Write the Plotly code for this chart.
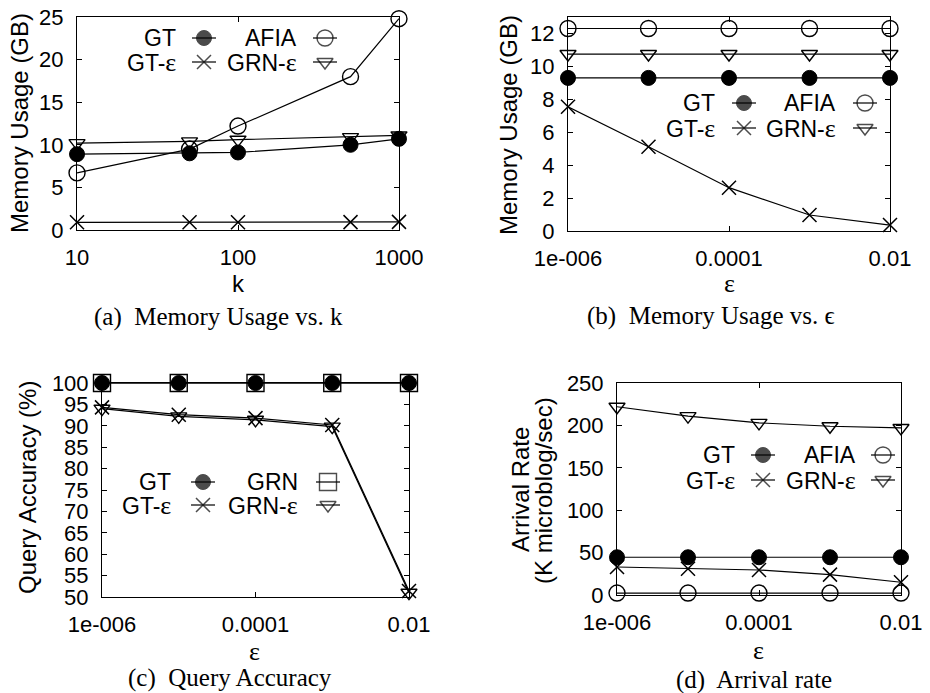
import plotly.graph_objects as go

W, H = 930, 693

# ---- data ----------------------------------------------------------------
k_vals = [10, 50, 100, 500, 1000]
mem_k_gt = [8.9, 9.0, 9.1, 10.0, 10.7]
mem_k_afia = [6.7, 9.5, 12.2, 18.0, 24.8]
mem_k_gt_eps = [0.9, 0.9, 0.9, 0.92, 0.95]
mem_k_grn_eps = [10.2, 10.4, 10.6, 10.9, 11.1]

eps_vals = [1e-6, 1e-5, 1e-4, 1e-3, 1e-2]
mem_e_gt = [9.3, 9.3, 9.3, 9.3, 9.3]
mem_e_afia = [12.3, 12.3, 12.3, 12.3, 12.3]
mem_e_gt_eps = [7.55, 5.12, 2.63, 0.97, 0.36]
mem_e_grn_eps = [10.75, 10.75, 10.75, 10.75, 10.75]

acc_gt = [100, 100, 100, 100, 100]
acc_grn = [100, 100, 100, 100, 100]
acc_gt_eps = [94.3, 92.6, 91.8, 90.2, 51.4]
acc_grn_eps = [94.0, 92.2, 91.4, 89.8, 51.0]

rate_gt = [44.5, 44.5, 44.5, 44.5, 44.5]
rate_afia = [2.3, 2.3, 2.3, 2.3, 2.3]
rate_gt_eps = [33, 31, 29.5, 24, 15]
rate_grn_eps = [222, 211, 203, 199, 197]

eps_ticks = [1e-6, 1e-4, 1e-2]
eps_ticktext = ["1e-006", "0.0001", "0.01"]
k_ticks = [10, 100, 1000]
k_ticktext = ["10", "100", "1000"]

SANS = "Liberation Sans"
SERIF = "Liberation Serif"
FS_TICK = 22
FS_LEG = 23
FS_TITLE = 24
FS_CAP = 25
EPS = '<span style="font-family:Liberation Serif;font-size:26px">ε</span>'

# marker styles
STY = {
    "GT": dict(symbol="circle", size=15, color="black", line=dict(color="black", width=1)),
    "AFIA": dict(symbol="circle-open", size=16, color="black", line=dict(color="black", width=1.4)),
    "GT-eps": dict(symbol="x-thin-open", size=14, color="black", line=dict(color="black", width=1.5)),
    "GRN-eps": dict(symbol="triangle-down-open", size=14, color="black", line=dict(color="black", width=1.4)),
    "GRN": dict(symbol="square-open", size=17, color="black", line=dict(color="black", width=1.4)),
}

# panel boxes in pixels: (left, right, top, bottom)
BOX = {
    1: (77, 399, 17, 230),
    2: (568, 890, 17, 231),
    3: (102, 409, 383, 597),
    4: (617, 901, 383, 595),
}

fig = go.Figure()


def px2paper(x, y):
    return x / W, 1 - y / H


def add_series(i, xs, ys, key):
    sfx = "" if i == 1 else str(i)
    fig.add_trace(go.Scatter(
        x=xs, y=ys, mode="lines+markers", xaxis="x" + sfx, yaxis="y" + sfx,
        line=dict(color="black", width=1.2), marker=STY[key],
        cliponaxis=False, showlegend=False, hoverinfo="x+y"))


# (a)
add_series(1, k_vals, mem_k_gt_eps, "GT-eps")
add_series(1, k_vals, mem_k_grn_eps, "GRN-eps")
add_series(1, k_vals, mem_k_gt, "GT")
add_series(1, k_vals, mem_k_afia, "AFIA")
# (b)
add_series(2, eps_vals, mem_e_gt_eps, "GT-eps")
add_series(2, eps_vals, mem_e_grn_eps, "GRN-eps")
add_series(2, eps_vals, mem_e_gt, "GT")
add_series(2, eps_vals, mem_e_afia, "AFIA")
# (c)
add_series(3, eps_vals, acc_grn, "GRN")
add_series(3, eps_vals, acc_gt, "GT")
add_series(3, eps_vals, acc_gt_eps, "GT-eps")
add_series(3, eps_vals, acc_grn_eps, "GRN-eps")
# (d)
add_series(4, eps_vals, rate_grn_eps, "GRN-eps")
add_series(4, eps_vals, rate_gt, "GT")
add_series(4, eps_vals, rate_gt_eps, "GT-eps")
add_series(4, eps_vals, rate_afia, "AFIA")

axis_common = dict(
    showline=True, linecolor="black", linewidth=1, mirror="ticks",
    ticks="inside", ticklen=5, tickwidth=1, tickcolor="black",
    showgrid=False, zeroline=False, automargin=False,
    tickfont=dict(family=SANS, size=FS_TICK, color="black"),
)

yranges = {1: ([-0.001, 25.001], 5), 2: ([-0.001, 13], 2),
           3: ([49.999, 100.001], 5), 4: ([-0.01, 250.01], 50)}
TINY = 1e-4  # small pad so end points on the box edges are not dropped

layout = dict(
    template="none",
    width=W, height=H, margin=dict(l=0, r=0, t=0, b=0, autoexpand=False),
    paper_bgcolor="white", plot_bgcolor="rgba(0,0,0,0)", showlegend=False,
)
for i, (l, r, t, b) in BOX.items():
    sfx = "" if i == 1 else str(i)
    xd = [l / W, r / W]
    yd = [1 - b / H, 1 - t / H]
    if i == 1:
        xa = dict(type="log", range=[1 - TINY, 3 + TINY], tickvals=k_ticks, ticktext=k_ticktext)
    else:
        xa = dict(type="log", range=[-6 - TINY, -2 + TINY], tickvals=eps_ticks, ticktext=eps_ticktext)
    xa.update(axis_common, domain=xd, anchor="y" + sfx, ticklabelstandoff=8)
    rng, dt = yranges[i]
    ya = dict(range=rng, dtick=dt, tick0=0, domain=yd, anchor="x" + sfx, ticklabelstandoff=8)
    ya.update(axis_common)
    if i == 2:
        ya.update(tickvals=[0, 2, 4, 6, 8, 10, 12])
    layout["xaxis" + sfx] = xa
    layout["yaxis" + sfx] = ya

# overlay pixel space for legend keys
layout["xaxis5"] = dict(domain=[0, 1], range=[0, W], visible=False, fixedrange=True,
                        anchor="y5", automargin=False)
layout["yaxis5"] = dict(domain=[0, 1], range=[H, 0], visible=False, fixedrange=True,
                        anchor="x5", automargin=False)

fig.update_layout(**layout)

annotations = []


def text(x, y, s, size=FS_TITLE, family=SANS, xanchor="center", angle=0):
    px, py = px2paper(x, y)
    annotations.append(dict(
        x=px, y=py, xref="paper", yref="paper", text=s, showarrow=False,
        xanchor=xanchor, yanchor="middle", textangle=angle,
        font=dict(family=family, size=size, color="black")))


def legend_entry(text_right, key_cx, y, label, key):
    text(text_right, y, label, size=FS_LEG, xanchor="right")
    half = 12
    fig.add_trace(go.Scatter(
        x=[key_cx - half, key_cx, key_cx + half], y=[y, y, y],
        mode="lines+markers", xaxis="x5", yaxis="y5",
        line=dict(color="black", width=1.2),
        marker=dict(STY[key], size=[0, STY[key]["size"], 0]),
        cliponaxis=False, showlegend=False, hoverinfo="skip"))


def legend_block(x_text1, x_key1, x_text2, x_key2, y1, y2, names):
    (n1, k1), (n2, k2), (n3, k3), (n4, k4) = names
    legend_entry(x_text1, x_key1, y1, n1, k1)
    legend_entry(x_text2, x_key2, y1, n2, k2)
    legend_entry(x_text1, x_key1, y2, n3, k3)
    legend_entry(x_text2, x_key2, y2, n4, k4)


std_names = [("GT", "GT"), ("AFIA", "AFIA"), ("GT-" + EPS, "GT-eps"), ("GRN-" + EPS, "GRN-eps")]
legend_block(178, 204, 299, 325, 38, 62, std_names)
legend_block(717, 744, 838, 865, 103, 128, std_names)
legend_block(173, 203, 300, 328, 482, 505,
             [("GT", "GT"), ("GRN", "GRN"), ("GT-" + EPS, "GT-eps"), ("GRN-" + EPS, "GRN-eps")])
legend_block(737, 763, 858, 883, 455, 480, std_names)

# axis titles
text(20, 123, "Memory Usage (GB)", angle=-90)
text(238, 283, "k")
text(508, 125, "Memory Usage (GB)", angle=-90)
text(729, 283, "ε", family=SERIF, size=26)
text(28, 488, "Query Accuracy (%)", angle=-90)
text(255, 651, "ε", family=SERIF, size=26)
text(520, 490, "Arrival Rate", angle=-90)
text(543, 491, "(K microblog/sec)", angle=-90)
text(758, 650, "ε", family=SERIF, size=26)

# captions
text(218, 317, "(a)  Memory Usage vs. k", size=FS_CAP, family=SERIF)
text(711, 316, "(b)  Memory Usage vs. ϵ", size=FS_CAP, family=SERIF)
text(230, 678, "(c)  Query Accuracy", size=FS_CAP, family=SERIF)
text(754, 680, "(d)  Arrival rate", size=FS_CAP, family=SERIF)

fig.update_layout(annotations=annotations)
fig.write_html("out.html")
